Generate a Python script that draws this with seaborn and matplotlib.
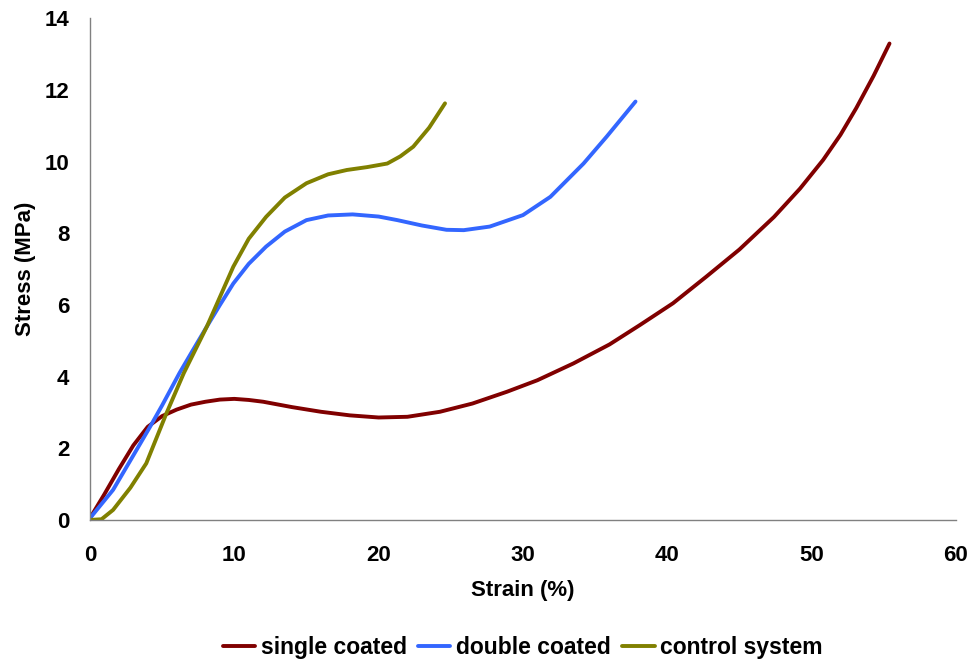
import pandas as pd
import numpy as np
import matplotlib
matplotlib.use("Agg")
import matplotlib.pyplot as plt
import seaborn as sns

# ====================================================
# DATA
# ====================================================

single_strain = [0, 1.0, 2.0, 3.0, 4.0, 5.0, 6.0, 7.0, 8.0, 9.0, 10.0, 11.0, 12.0,
                 14.0, 16.0, 18.0, 20.0, 22.0, 24.25, 26.5, 28.9, 31.0, 33.5,
                 36.0, 38.1, 40.4, 42.7, 45.0, 47.4, 49.2, 50.8, 52.0, 53.1,
                 54.3, 55.4]
single_stress = [0.05, 0.72, 1.42, 2.08, 2.6, 2.9, 3.08, 3.22, 3.3, 3.36, 3.38,
                 3.35, 3.3, 3.15, 3.02, 2.92, 2.86, 2.88, 3.02, 3.25, 3.58, 3.9,
                 4.37, 4.9, 5.44, 6.05, 6.79, 7.55, 8.46, 9.25, 10.05, 10.75,
                 11.5, 12.4, 13.3]

double_strain = [0, 1.6, 3.0, 4.16, 5.0, 6.2, 7.0, 8.1, 9.0, 9.93, 11.0, 12.2,
                 13.5, 15.0, 16.5, 18.2, 20.0, 21.3, 23.0, 24.7, 25.9, 27.7,
                 30.0, 31.9, 34.2, 35.8, 37.8]
double_stress = [0.05, 0.84, 1.8, 2.6, 3.2, 4.1, 4.65, 5.4, 6.0, 6.6, 7.15, 7.63,
                 8.05, 8.37, 8.5, 8.53, 8.47, 8.37, 8.22, 8.1, 8.09, 8.19,
                 8.51, 9.02, 9.95, 10.7, 11.68]

control_strain = [0, 0.8, 1.6, 2.8, 3.9, 5.3, 6.5, 8.1, 9.93, 11.0, 12.2, 13.5,
                  15.0, 16.5, 17.8, 19.2, 20.6, 21.5, 22.4, 23.5, 24.6]
control_stress = [0, 0.02, 0.28, 0.9, 1.58, 2.98, 4.1, 5.4, 7.07, 7.85, 8.46,
                  9.0, 9.4, 9.65, 9.77, 9.85, 9.95, 10.15, 10.42, 10.95, 11.63]

series_names = ["single coated", "double coated", "control system"]
series_colors = ["#800000", "#3366FF", "#808000"]

df = pd.concat([
    pd.DataFrame({"Strain": single_strain, "Stress": single_stress, "Sample": series_names[0]}),
    pd.DataFrame({"Strain": double_strain, "Stress": double_stress, "Sample": series_names[1]}),
    pd.DataFrame({"Strain": control_strain, "Stress": control_stress, "Sample": series_names[2]}),
])

# ====================================================
# PLOT
# ====================================================

sns.set_style("white")
plt.rcParams["font.family"] = ["Liberation Sans", "DejaVu Sans"]
plt.rcParams["font.weight"] = "bold"
plt.rcParams["text.color"] = "black"
plt.rcParams["axes.labelcolor"] = "black"
plt.rcParams["xtick.color"] = "black"
plt.rcParams["ytick.color"] = "black"

fig = plt.figure(figsize=(9.74, 6.59), dpi=100)
ax = fig.add_axes([0.0924, 0.211, 0.889, 0.761])

sns.lineplot(
    data=df,
    x="Strain",
    y="Stress",
    hue="Sample",
    palette=dict(zip(series_names, series_colors)),
    sort=False,
    estimator=None,
    linewidth=2.8,
    ax=ax
)

ax.set_xlim(0, 60)
ax.set_ylim(0, 14)
ax.set_xticks(range(0, 61, 10))
ax.set_yticks(range(0, 15, 2))

for side in ["top", "right"]:
    ax.spines[side].set_visible(False)
for side in ["left", "bottom"]:
    ax.spines[side].set_color("#808080")
    ax.spines[side].set_linewidth(1.0)

ax.tick_params(axis="both", direction="out", length=6, width=1,
               color="#808080", labelcolor="black", labelsize=16)
ax.tick_params(axis="x", pad=12)
ax.tick_params(axis="y", pad=9)
for lbl in ax.get_xticklabels() + ax.get_yticklabels():
    lbl.set_fontweight("bold")

ax.set_xlabel("Strain (%)", fontsize=16, fontweight="bold", labelpad=10)
ax.set_ylabel("Stress (MPa)", fontsize=16, fontweight="bold", labelpad=6)

ax.legend(
    loc="upper center",
    bbox_to_anchor=(0.5, -0.19),
    ncol=3,
    frameon=False,
    fontsize=16.5,
    handlelength=1.4,
    handletextpad=0.25,
    columnspacing=0.5,
    title=None
)

plt.savefig("out.png", dpi=100)
